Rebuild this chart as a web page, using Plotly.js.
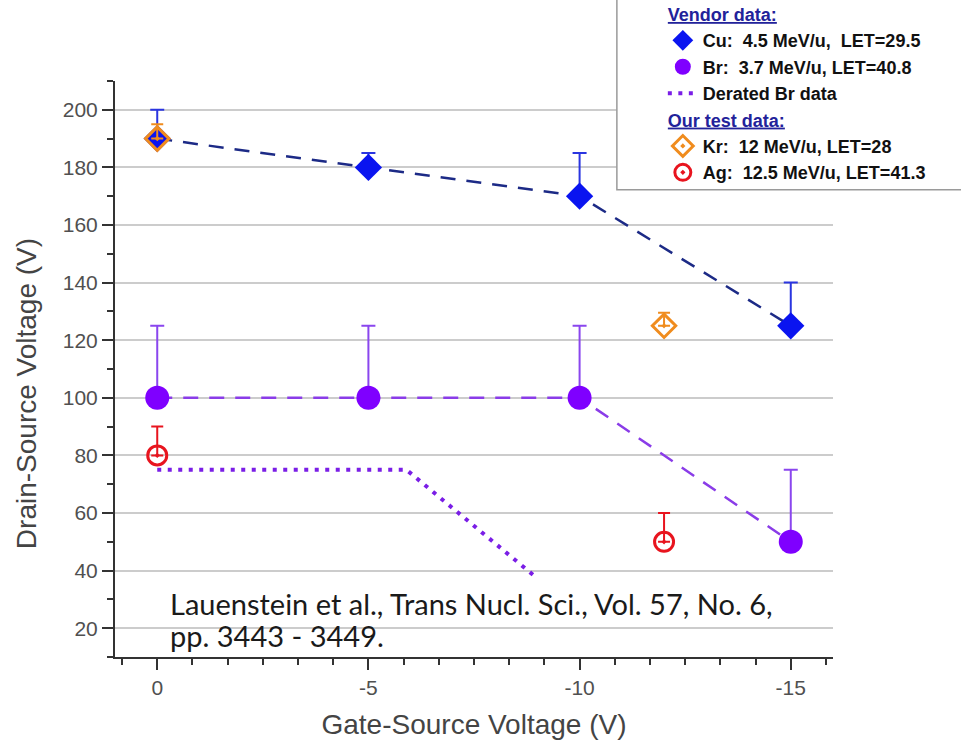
<!DOCTYPE html>
<html>
<head>
<meta charset="utf-8">
<script src="https://cdn.plot.ly/plotly-3.0.1.min.js"></script>
<style>html,body{margin:0;padding:0;background:#fff;}#chart{width:961px;height:740px;}</style>
</head>
<body>
<div id="chart"></div>
<script>
// ---- data ----
const cuX = [0, -5, -10, -15];
const cuY = [190, 180, 170, 125];
const cuErrUp = [10, 5, 15, 15];

const brX = [0, -5, -10, -15];
const brY = [100, 100, 100, 50];
const brErrUp = [25, 25, 25, 25];

const deratedX = [0, -5.9, -8.9];
const deratedY = [75, 75, 38.5];

const krX = [0, -12];
const krY = [190, 125];
const krErrUp = [5, 4.5];

const agX = [0, -12];
const agY = [80, 50];
const agErrUp = [10, 10];

const names = {
  cu: 'Cu:\u00a0\u00a04.5 MeV/u,\u00a0\u00a0LET=29.5',
  br: 'Br:\u00a0\u00a03.7 MeV/u, LET=40.8',
  der: 'Derated Br data',
  kr: 'Kr:\u00a0\u00a012 MeV/u, LET=28',
  ag: 'Ag:\u00a0\u00a012.5 MeV/u, LET=41.3'
};
const groupTitles = ['<u>Vendor data:</u>', '<u>Our test data:</u>'];
const xTickVals = [0, -5, -10, -15];
const xTickText = ['0', '-5', '-10', '-15'];
const yTickVals = [20, 40, 60, 80, 100, 120, 140, 160, 180, 200];
const xTitle = 'Gate-Source Voltage (V)';
const yTitle = 'Drain-Source Voltage (V)';
const citation = ['Lauenstein et al., Trans Nucl. Sci., Vol. 57, No. 6,', 'pp. 3443 - 3449.'];

const gtFont = {family: 'Liberation Sans, Arial, sans-serif', size: 18, color: '#22229a', weight: 'bold'};

const traces = [
  // connecting lines (not in legend)
  {
    x: cuX, y: cuY, type: 'scatter', mode: 'lines', showlegend: false, hoverinfo: 'skip',
    line: {color: '#1c2a86', width: 2.5, dash: '15px,11px'}
  },
  {
    x: brX, y: brY, type: 'scatter', mode: 'lines', showlegend: false, hoverinfo: 'skip',
    line: {color: '#8a3ce8', width: 2.5, dash: '15px,11px'}
  },
  {
    x: cuX, y: cuY, name: names.cu, type: 'scatter', mode: 'markers',
    legendgroup: 'vendor', legendgrouptitle: {text: groupTitles[0], font: gtFont},
    marker: {symbol: 'diamond', size: 21, color: '#0a14f0'},
    error_y: {type: 'data', symmetric: false, array: cuErrUp, arrayminus: [0,0,0,0], color: '#2a35e0', thickness: 2, width: 7}
  },
  {
    x: brX, y: brY, name: names.br, type: 'scatter', mode: 'markers',
    legendgroup: 'vendor',
    marker: {symbol: 'circle', size: 24, color: '#7f00ff'},
    error_y: {type: 'data', symmetric: false, array: brErrUp, arrayminus: [0,0,0,0], color: '#8a46ee', thickness: 2, width: 7}
  },
  {
    x: deratedX, y: deratedY, name: names.der, type: 'scatter', mode: 'lines',
    legendgroup: 'vendor',
    line: {color: '#7a1ee6', width: 4, dash: '4px,6.5px'}
  },
  {
    x: krX, y: krY, name: names.kr, type: 'scatter', mode: 'markers',
    legendgroup: 'test', legendgrouptitle: {text: groupTitles[1], font: gtFont},
    marker: {symbol: 'diamond-open-dot', size: 18, color: '#f08c1e', line: {width: 3, color: '#f08c1e'}},
    error_y: {type: 'data', symmetric: false, array: krErrUp, arrayminus: [0,0], color: '#f08c1e', thickness: 2, width: 6}
  },
  {
    x: agX, y: agY, name: names.ag, type: 'scatter', mode: 'markers',
    legendgroup: 'test',
    marker: {symbol: 'circle-open-dot', size: 19, color: '#e8141e', line: {width: 3, color: '#e8141e'}},
    error_y: {type: 'data', symmetric: false, array: agErrUp, arrayminus: [0,0], color: '#e8141e', thickness: 2, width: 6}
  }
];

const tickFont = {family: 'Liberation Sans, Arial, sans-serif', size: 21, color: '#505050'};
const titleFont = {family: 'Liberation Sans, Arial, sans-serif', size: 28, color: '#444444'};
const citeFont = {family: 'Lato, Open Sans, sans-serif', size: 29, color: '#1a1a1a'};

const layout = {
  width: 961, height: 740,
  margin: {l: 115, r: 128, t: 81, b: 83, autoexpand: false},
  paper_bgcolor: '#ffffff', plot_bgcolor: '#ffffff',
  showlegend: true,
  legend: {
    x: 0.763, xanchor: 'left', y: 1.148, yanchor: 'top',
    bgcolor: 'rgba(0,0,0,0)', borderwidth: 0,
    traceorder: 'grouped', tracegroupgap: 0,
    font: {family: 'Liberation Sans, Arial, sans-serif', size: 18, color: '#111111', weight: 'bold'}
  },
  xaxis: {
    range: [1.0, -16.0], autorange: false,
    tickvals: xTickVals, ticktext: xTickText,
    ticks: 'outside', ticklen: 11, tickwidth: 2, tickcolor: '#333',
    minor: {dtick: 5/6, tick0: 0, ticks: 'outside', ticklen: 6, tickwidth: 2, tickcolor: '#333', showgrid: false},
    showline: true, linecolor: '#333', linewidth: 2,
    showgrid: false, zeroline: false,
    tickfont: tickFont,
    title: {text: xTitle, font: titleFont, standoff: 16}
  },
  yaxis: {
    range: [10, 210], autorange: false,
    tickvals: yTickVals,
    ticks: 'outside', ticklen: 11, tickwidth: 2, tickcolor: '#333',
    minor: {dtick: 10, tick0: 0, ticks: 'outside', ticklen: 6, tickwidth: 2, tickcolor: '#333', showgrid: false},
    showline: true, linecolor: '#333', linewidth: 2,
    showgrid: true, gridcolor: '#cccccc', gridwidth: 2, zeroline: false,
    tickfont: tickFont
  },
  shapes: [
    {type: 'rect', xref: 'paper', yref: 'paper', x0: 0.699, x1: 1.3, y0: 0.811, y1: 1.3,
     line: {color: '#9a9a9a', width: 1.5}, fillcolor: '#ffffff', layer: 'above'}
  ],
  annotations: [
    {xref: 'paper', yref: 'paper', x: -0.124, y: 0.458, xanchor: 'center', yanchor: 'middle',
     textangle: -90, showarrow: false, text: yTitle, font: titleFont},
    {xref: 'paper', yref: 'paper', x: 0.0738, y: 0.0937, xanchor: 'left', yanchor: 'middle', align: 'left',
     showarrow: false, text: citation[0], font: citeFont},
    {xref: 'paper', yref: 'paper', x: 0.0738, y: 0.0365, xanchor: 'left', yanchor: 'middle', align: 'left',
     showarrow: false, text: citation[1], font: citeFont}
  ]
};

Plotly.newPlot('chart', traces, layout, {displayModeBar: false, staticPlot: true});
</script>
</body>
</html>
